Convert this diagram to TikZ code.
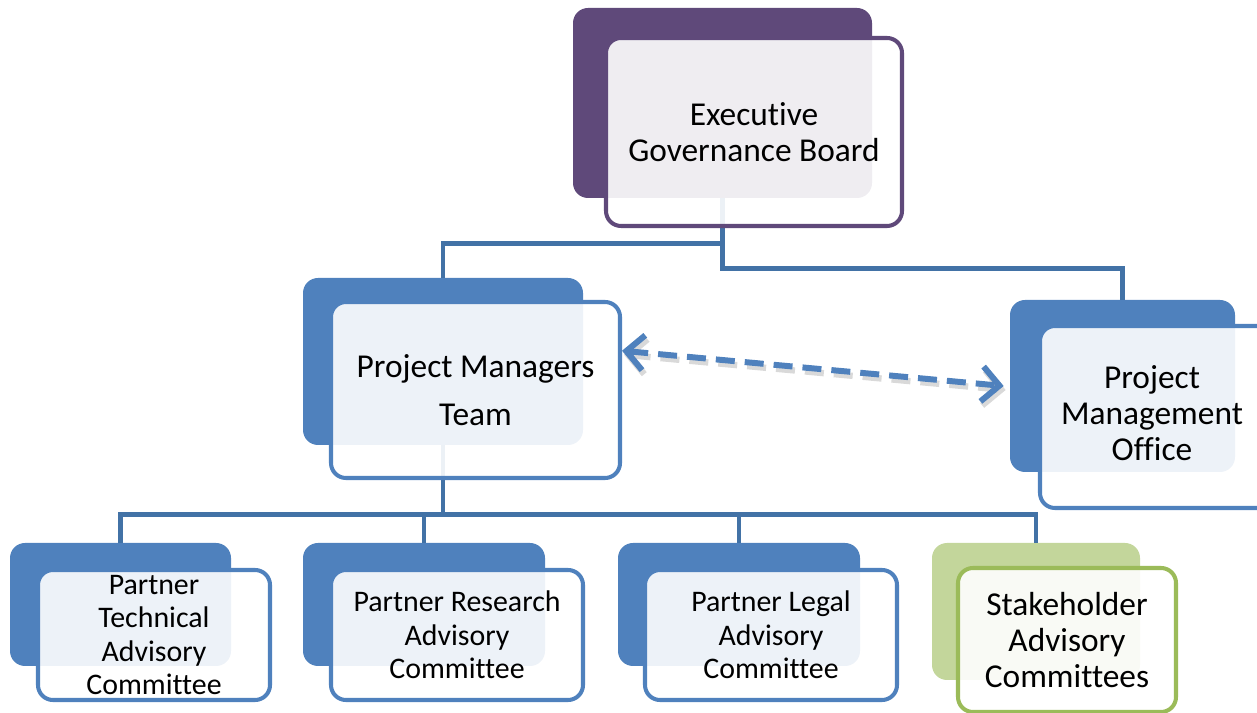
\documentclass[tikz,border=0pt]{standalone}
\usepackage{fontspec}
\setmainfont{Carlito}[Ligatures={NoCommon,NoContextual}]
\usetikzlibrary{arrows.meta}

\definecolor{purp}{HTML}{5F497A}
\definecolor{blu}{HTML}{4F81BD}
\definecolor{grnback}{HTML}{C3D69B}
\definecolor{grnline}{HTML}{9BBB59}
\definecolor{linkcol}{HTML}{4272A6}

\tikzset{
	backbox/.style={fill=#1, rounded corners=0.3cm, inner sep=0pt},
	frontbox/.style={draw=#1, line width=2.3pt, fill=white, fill opacity=0.9, text opacity=1, rounded corners=0.3cm, align=center, inner sep=0pt},
	link/.style={draw=linkcol, line width=2.5pt},
	bigtext/.style={font=\fontsize{19}{20.5}\selectfont},
	smalltext/.style={font=\fontsize{17}{19}\selectfont},
	dasharrow/.style={blu, line width=3.4pt, dash pattern=on 0.38cm off 0.2cm,
		{Straight Barb[length=0.35cm,width=0.7cm]}-{Straight Barb[length=0.35cm,width=0.7cm]},
		preaction={draw=black, opacity=0.15, line width=3.6pt, dash pattern=on 0.38cm off 0.2cm, transform canvas={shift={(0.04,-0.08)}}}},
}

\begin{document}
\begin{tikzpicture}
		\useasboundingbox (0,0) rectangle (25.14,14.26);

		% back boxes
		\node[backbox=purp, minimum width=5.98cm, minimum height=3.80cm] at (14.45, 12.20) (execb) {};
		\node[backbox=blu, minimum width=5.60cm, minimum height=3.34cm] at (8.86, 7.03) (pmtb) {};
		\node[backbox=blu, minimum width=4.50cm, minimum height=3.44cm] at (22.45, 6.54) (pmob) {};
		\node[backbox=blu, minimum width=4.42cm, minimum height=2.46cm] at (2.41, 2.17) (ptacb) {};
		\node[backbox=blu, minimum width=4.84cm, minimum height=2.46cm] at (8.48, 2.17) (pracb) {};
		\node[backbox=blu, minimum width=4.84cm, minimum height=2.46cm] at (14.78, 2.17) (placb) {};
		\node[backbox=grnback, minimum width=4.16cm, minimum height=2.74cm] at (20.72, 2.03) (sacb) {};

		% tree lines
		\draw[link] (execb.south) -- ++(0,-0.90) -| (pmtb.north);
		\draw[link] (execb.south) -- ++(0,-1.40) -| (pmob.north);
		\foreach \kid in {ptacb, pracb, placb, sacb}
			\draw[link] (pmtb.south) -- ++(0,-1.38) -| (\kid.north);

		% front boxes
		\node[frontbox=purp, bigtext, minimum width=5.92cm, minimum height=3.76cm] at (15.08, 11.62) (execf) {Executive\\Governance Board};
		\node[frontbox=blu, font=\fontsize{19}{27}\selectfont, minimum width=5.78cm, minimum height=3.52cm] at (9.51, 6.46) (pmtf) {Project Managers\\Team};
		\node[frontbox=blu, bigtext, minimum width=5.20cm, minimum height=3.64cm] at (23.40, 5.92) (pmof) {\begin{tabular}{@{}c@{\hspace{0.72cm}}}Project\\Management\\Office\end{tabular}};
		\node[frontbox=blu, smalltext, minimum width=4.64cm, minimum height=2.60cm] at (3.08, 1.56) (ptacf) {Partner\\Technical\\Advisory\\Committee};
		\node[frontbox=blu, smalltext, minimum width=5.04cm, minimum height=2.60cm] at (9.14, 1.56) (pracf) {Partner Research\\Advisory\\Committee};
		\node[frontbox=blu, smalltext, minimum width=5.04cm, minimum height=2.60cm] at (15.42, 1.56) (placf) {Partner Legal\\Advisory\\Committee};
		\node[frontbox=grnline, bigtext, minimum width=4.36cm, minimum height=2.88cm] at (21.34, 1.46) (sacf) {Stakeholder\\Advisory\\Committees};

		\draw[dasharrow] (pmtf.15) -- ([xshift=-0.12cm]pmob.west);

	\end{tikzpicture}
\end{document}
